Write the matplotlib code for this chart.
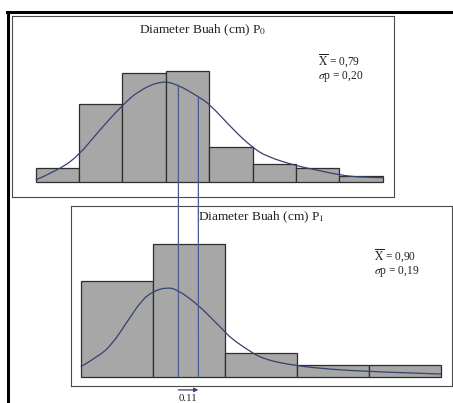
import numpy as np
import matplotlib.pyplot as plt
from matplotlib.patches import ConnectionPatch, PathPatch
from matplotlib.path import Path
from matplotlib.lines import Line2D

plt.rcParams['font.family'] = ['Liberation Serif', 'DejaVu Serif']
plt.rcParams['mathtext.fontset'] = 'stix'

# --- data (bin index on x, frequency on y) ---
p0_counts = [2.2, 12.9, 18.1, 18.5, 5.8, 2.9, 2.2, 0.95]
p0_curve_x = [0, 0.56, 1.0, 1.41, 2.0, 2.40, 2.91, 3.29, 3.75, 4.02, 4.56,
              4.99, 5.33, 6.02, 6.40, 7.0, 7.48, 8.0]
p0_curve_y = [0.28, 2.07, 4.45, 8.07, 12.78, 15.28, 16.83, 16.12, 14.17, 12.85,
              8.62, 5.73, 4.17, 2.62, 2.07, 1.12, 0.73, 0.67]
p0_stats = r"$\overline{\mathrm{X}}$ = 0,79" + "\n" + r"$\sigma$p = 0,20"

p1_counts = [8, 11, 2, 1, 1]
p1_curve_x = [0, 0.24, 0.43, 0.66, 0.85, 1.0, 1.19, 1.35, 1.63, 1.86, 2.0,
              2.07, 2.28, 2.53, 3.0, 3.46, 4.0, 5.0]
p1_curve_y = [0.83, 1.67, 2.64, 4.72, 6.39, 7.08, 7.45, 7.22, 5.97, 4.58, 3.75,
              3.28, 2.37, 1.45, 0.89, 0.62, 0.42, 0.22]
p1_stats = r"$\overline{\mathrm{X}}$ = 0,90" + "\n" + r"$\sigma$p = 0,19"

# mean markers (position in bins of each panel)
p0_lines = [3.29, 3.75]
p1_lines = [1.355, 1.632]
diff_label = "0.11"

W, H = 453, 403
BAR = '#a7a7a7'
EDGE = '#2e2e2e'
CURVE = '#34426e'
VLINE = '#4a5a92'


def px_axes(fig, x0, y0, x1, y1):
    return fig.add_axes([x0 / W, 1 - y1 / H, (x1 - x0) / W, (y1 - y0) / H])


def smooth_path(xs, ys):
    # read points used as quadratic bezier control points
    pts = np.column_stack([xs, ys])
    verts = [pts[0]]
    codes = [Path.MOVETO]
    for i in range(1, len(pts) - 1):
        mid = (pts[i] + pts[i + 1]) / 2
        if i == len(pts) - 2:
            mid = pts[i + 1]
        verts += [pts[i], mid]
        codes += [Path.CURVE3, Path.CURVE3]
    return Path(verts, codes)


def panel(ax, counts, cx, cy, title, stats, xlim, ylim, title_xy, stats_xy):
    ax.bar(np.arange(len(counts)), counts, width=1, align='edge',
           color=BAR, edgecolor=EDGE, linewidth=0.9, zorder=2)
    ax.add_patch(PathPatch(smooth_path(cx, cy), facecolor='none',
                           edgecolor=CURVE, linewidth=0.9, zorder=3))
    ax.set_xlim(*xlim)
    ax.set_ylim(*ylim)
    ax.set_xticks([])
    ax.set_yticks([])
    for s in ax.spines.values():
        s.set_color('#4a4a4a')
        s.set_linewidth(0.8)
    ax.text(title_xy[0], title_xy[1], title, transform=ax.transAxes,
            ha='center', va='center', fontsize=9.6, color='#222222')
    ax.text(stats_xy[0], stats_xy[1], stats, transform=ax.transAxes,
            ha='left', va='top', fontsize=8.3, color='#222222', linespacing=0.95)


fig = plt.figure(figsize=(W / 100, H / 100), dpi=100)

# outer frame
fig.add_artist(Line2D([8 / W, 8 / W], [0, 1 - 12 / H], color='black', linewidth=2.2))
fig.add_artist(Line2D([7 / W, 1], [1 - 12 / H, 1 - 12 / H], color='black', linewidth=2.2))

ax0 = px_axes(fig, 12, 16, 394, 197)
panel(ax0, p0_counts, p0_curve_x, p0_curve_y,
      r"Diameter Buah (cm) P$_0$", p0_stats,
      (-0.546, 8.26), (-2.55, 27.6), (0.5, 0.92), (0.80, 0.80))

ax1 = px_axes(fig, 71, 206, 452, 386)
panel(ax1, p1_counts, p1_curve_x, p1_curve_y,
      r"Diameter Buah (cm) P$_1$", p1_stats,
      (-0.135, 5.15), (-0.775, 14.2), (0.5, 0.935), (0.795, 0.77))

# vertical mean lines from the top curve down to the bottom baseline
for xa, xb in zip(p0_lines, p1_lines):
    ya = np.interp(xa, p0_curve_x, p0_curve_y)
    con = ConnectionPatch(xyA=(xa, ya), coordsA=ax0.transData,
                          xyB=(xb, 0), coordsB=ax1.transData,
                          color=VLINE, linewidth=0.9, zorder=10)
    fig.add_artist(con)

# arrow for the shift between the means
ax1.annotate('', xy=(p1_lines[1], -1.1), xytext=(p1_lines[0], -1.1),
             xycoords='data', annotation_clip=False,
             arrowprops=dict(arrowstyle='-|>', color=CURVE, lw=0.9,
                             mutation_scale=6, shrinkA=0, shrinkB=0))
ax1.text(np.mean(p1_lines), -1.85, diff_label, ha='center', va='center',
         fontsize=7.8, color='#222222', clip_on=False)

fig.savefig('out.png', dpi=100)
